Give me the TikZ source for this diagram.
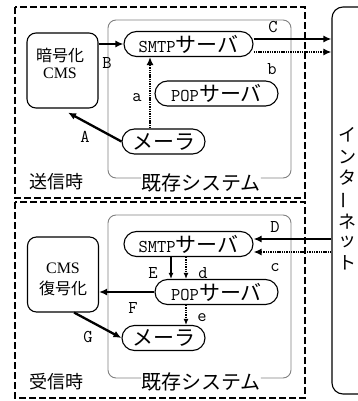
\documentclass[tikz,border=0pt]{standalone}
\usepackage{fontspec}
\setmainfont{Liberation Serif}
\newfontfamily\jp{Noto Sans CJK JP}
\usetikzlibrary{arrows.meta,calc}
\begin{document}
\begin{tikzpicture}[x=1pt,y=-1pt,
  pill/.style={draw, line width=1.1pt, rounded corners=12.5pt, minimum height=25pt, inner sep=0pt, font=\jp\fontsize{21}{21}\selectfont},
  cmsbox/.style={draw, line width=1.1pt, rounded corners=9pt, minimum width=71pt, minimum height=75pt, inner sep=0pt},
  lbl/.style={font=\ttfamily\fontsize{18}{18}\selectfont, inner sep=0pt},
  jtext/.style={font=\jp\fontsize{16}{16}\selectfont, inner sep=0pt},
  serif/.style={font=\rmfamily\fontsize{16}{16}\selectfont, inner sep=0pt},
  jlab/.style={font=\jp\fontsize{18}{18}\selectfont, inner sep=0pt},
  syslab/.style={font=\jp\fontsize{20}{20}\selectfont, inner sep=0pt, fill=white},
  nettext/.style={font=\jp\fontsize{18}{18}\selectfont, inner sep=0pt},
  sysbox/.style={draw=black!50, line width=0.9pt, rounded corners=8pt},
  outer/.style={draw, line width=1.1pt, dash pattern=on 7pt off 3pt},
  big/.style={line width=2.3pt, -{Latex[length=8pt,width=7pt]}},
  dotarrow/.style={line width=2.4pt, dash pattern=on 1.4pt off 0.9pt, -{Latex[length=8pt,width=7pt]}},
  smallarrow/.style={line width=1.4pt, -{Latex[length=6pt,width=5pt]}},
  dotsmall/.style={line width=1.9pt, dash pattern=on 1.4pt off 0.9pt, -{Latex[length=6pt,width=5pt]}}
]
\useasboundingbox (0,0) rectangle (358,401);

% outer dashed frames
\draw[outer] (15,7) rectangle (305,198);
\draw[outer] (15,202) rectangle (305,398);

% internet box
\begin{scope}
\clip (0,0) rectangle (358,401);
\node[draw, line width=1.1pt, rounded corners=11pt, minimum width=43pt, minimum height=387pt, inner sep=0pt] (net) at (353.5,200.5) {};
\end{scope}
\node[nettext] (n1) at (347,135) {イ};
\node[nettext] (n2) at (347,157) {ン};
\node[nettext] (n3) at (347,178) {タ};
\node[nettext, rotate=90] (n4) at (347,200) {ー};
\node[nettext] (n5) at (347,222) {ネ};
\node[nettext] (n6) at (347,242) {ッ};
\node[nettext] (n7) at (347,263) {ト};

% ---------- top half ----------
\node[syslab] (sys1lab) at (201,183) {既存システム};
\draw[sysbox] ([yshift=5pt]sys1lab.west) -| (108,20) -| (291,178) -- ([yshift=5pt]sys1lab.east);

\node[cmsbox] (cms1) at (62.5,70.5) {};
\node[jtext] (cms1a) at (60,55) {暗号化};
\node[serif] (cms1b) at (60,73) {CMS};

\node[pill, minimum width=129pt] (smtp1) at (188.5,44) {{\ttfamily\fontsize{18}{18}\selectfont SMTP}サーバ};
\node[pill, minimum width=123pt] (pop1) at (216.5,93.5) {{\ttfamily\fontsize{18}{18}\selectfont POP}サーバ};
\node[pill, minimum width=83pt] (mailer1) at (163.5,141.5) {メーラ};

\node[jlab] (send) at (56,182) {送信時};

\draw[big] (cms1.east |- smtp1.west) -- (smtp1.west);
\draw[big] ([yshift=5pt]smtp1.east) -- ([yshift=5pt]smtp1.east -| net.west);
\draw[dotarrow] ([yshift=-8pt]smtp1.east) -- ([yshift=-8pt]smtp1.east -| net.west);
\draw[dotarrow] ([xshift=-13.5pt]mailer1.north) -- ([xshift=-13.5pt]mailer1.north |- smtp1.south);
\draw[big] (mailer1.west) -- ([xshift=5.5pt,yshift=-4pt]cms1.south);

\node[lbl] (lA) at (85,137) {A};
\node[lbl] (lB) at (107,63) {B};
\node[lbl] (lC) at (273,27) {C};
\node[lbl] (la) at (137,98) {a};
\node[lbl] (lb) at (272,69) {b};

% ---------- bottom half ----------
\node[syslab] (sys2lab) at (201,382) {既存システム};
\draw[sysbox] ([yshift=4pt]sys2lab.west) -| (108,215) -| (291,378) -- ([yshift=4pt]sys2lab.east);

\node[cmsbox] (cms2) at (63,274.5) {};
\node[serif] (cms2a) at (63,268) {CMS};
\node[jtext] (cms2b) at (63,288) {復号化};

\node[pill, minimum width=129pt] (smtp2) at (188.5,244) {{\ttfamily\fontsize{18}{18}\selectfont SMTP}サーバ};
\node[pill, minimum width=123pt] (pop2) at (216.5,292) {{\ttfamily\fontsize{18}{18}\selectfont POP}サーバ};
\node[pill, minimum width=83pt] (mailer2) at (163.5,338) {メーラ};

\node[jlab] (recv) at (56,382) {受信時};

\draw[big] ([yshift=5pt]smtp2.east -| net.west) -- ([yshift=5pt]smtp2.east);
\draw[dotarrow] ([yshift=-8pt]smtp2.east -| net.west) -- ([yshift=-8pt]smtp2.east);
\draw[smallarrow] ([xshift=-17.5pt]smtp2.south) -- ([xshift=-17.5pt]smtp2.south |- pop2.north);
\draw[dotsmall] ([xshift=-2.5pt]smtp2.south) -- ([xshift=-2.5pt]smtp2.south |- pop2.north);
\draw[big] (pop2.west) -- (pop2.west -| cms2.east);
\draw[dotsmall] ([xshift=-30.5pt]pop2.south) -- ([xshift=-30.5pt]pop2.south |- mailer2.north);
\draw[big] ([xshift=-25pt]cms2.south east) -- (mailer2.west);

\node[lbl] (lD) at (275,227) {D};
\node[lbl] (lc) at (275,268) {c};
\node[lbl] (lE) at (153,273) {E};
\node[lbl] (ld) at (203,273) {d};
\node[lbl] (lF) at (133,308) {F};
\node[lbl] (le) at (202,318) {e};
\node[lbl] (lG) at (88,337) {G};
\end{tikzpicture}
\end{document}
